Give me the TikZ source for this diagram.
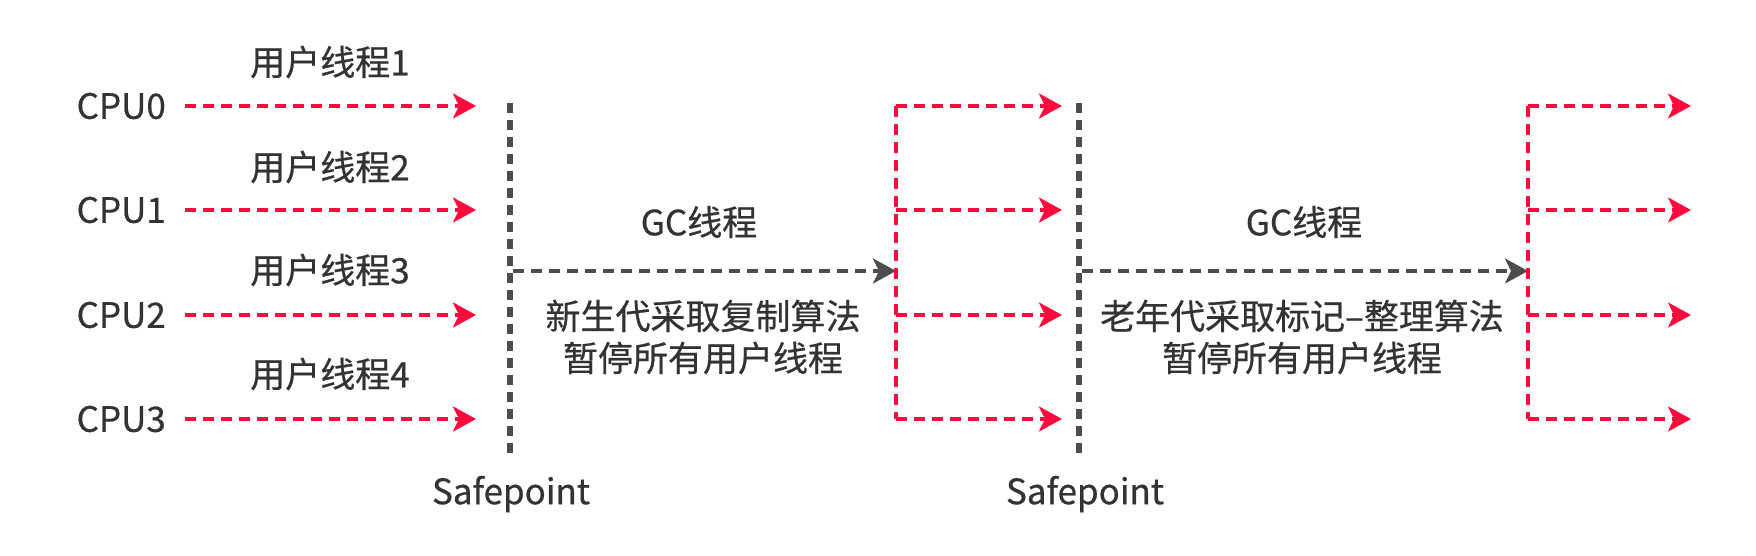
\documentclass[tikz,border=0pt]{standalone}
\usepackage{fontspec}
\setmainfont{Noto Sans CJK SC}[FakeBold=0.6]
\usetikzlibrary{arrows.meta}
\definecolor{my_red}{HTML}{FF0A3C}
\definecolor{my_gray}{HTML}{4D4D4D}
\definecolor{my_text}{HTML}{333333}

\begin{document}
\begin{tikzpicture}[x=1pt,y=-1pt,
  txt/.style={text=my_text,font=\fontsize{35}{42}\selectfont,inner sep=0pt},
  cpu_arrow/.style={draw=my_red,line width=3.2pt,dash pattern=on 11pt off 7pt,-{Stealth[length=23pt,width=25pt,inset=6pt]}},
  red_line/.style={draw=my_red,line width=3.2pt,dash pattern=on 11pt off 7pt},
  gc_arrow/.style={draw=my_gray,line width=3.2pt,dash pattern=on 11pt off 7pt,-{Stealth[length=23pt,width=25pt,inset=6pt]}},
  safe_line/.style={draw=my_gray,line width=6.5pt,dash pattern=on 10pt off 7pt}
  ]

\useasboundingbox (0,0) rectangle (1756,556);

% cpus
\node[txt,anchor=east] (cpu0) at (166,106) {CPU0};
\node[txt,anchor=east] (cpu1) at (166,210) {CPU1};
\node[txt,anchor=east] (cpu2) at (166,315) {CPU2};
\node[txt,anchor=east] (cpu3) at (166,419) {CPU3};

\node[txt] (user1) at (330,62) {用户线程1};
\node[txt] (user2) at (330,167) {用户线程2};
\node[txt] (user3) at (330,270) {用户线程3};
\node[txt] (user4) at (330,374) {用户线程4};

\coordinate (end0) at (476,106);
\coordinate (end1) at (476,210);
\coordinate (end2) at (476,315);
\coordinate (end3) at (476,419);

\draw[cpu_arrow] ([xshift=19pt]cpu0.east) -- (end0);
\draw[cpu_arrow] ([xshift=19pt]cpu1.east) -- (end1);
\draw[cpu_arrow] ([xshift=19pt]cpu2.east) -- (end2);
\draw[cpu_arrow] ([xshift=19pt]cpu3.east) -- (end3);

% safepoints
\coordinate (sp1_top) at (510,103);
\coordinate (sp1_bot) at (510,457);
\coordinate (sp2_top) at (1079,103);
\coordinate (sp2_bot) at (1079,457);
\draw[safe_line] (sp1_top) -- (sp1_bot);
\draw[safe_line] (sp2_top) -- (sp2_bot);
\node[txt] (safe1) at (511,494) {Safepoint};
\node[txt] (safe2) at (1085,494) {Safepoint};

% young gc
\node[txt] (gc1) at (699,222) {GC线程};
\coordinate (gc1_start) at (513,271);
\coordinate (split1_top) at (896,106);
\coordinate (split1_mid) at (896,271);
\coordinate (split1_bot) at (896,419);
\draw[gc_arrow] (gc1_start) -- (split1_mid);
\node[txt,align=center] (young) at (703,337) {新生代采取复制算法\\暂停所有用户线程};
\draw[red_line] (split1_top) -- (split1_bot);
\coordinate (out1_0) at (1062,106);
\coordinate (out1_1) at (1062,210);
\coordinate (out1_2) at (1062,315);
\coordinate (out1_3) at (1062,419);
\draw[cpu_arrow] (split1_top) -- (out1_0);
\draw[cpu_arrow] (896,210) -- (out1_1);
\draw[cpu_arrow] (896,315) -- (out1_2);
\draw[cpu_arrow] (split1_bot) -- (out1_3);

% old gc
\node[txt] (gc2) at (1304,222) {GC线程};
\coordinate (gc2_start) at (1082,271);
\coordinate (split2_top) at (1528,106);
\coordinate (split2_mid) at (1528,271);
\coordinate (split2_bot) at (1528,419);
\draw[gc_arrow] (gc2_start) -- (split2_mid);
\node[txt,align=center] (old) at (1302,337) {老年代采取标记–整理算法\\暂停所有用户线程};
\draw[red_line] (split2_top) -- (split2_bot);
\coordinate (out2_0) at (1691,106);
\coordinate (out2_1) at (1691,210);
\coordinate (out2_2) at (1691,315);
\coordinate (out2_3) at (1691,419);
\draw[cpu_arrow] (split2_top) -- (out2_0);
\draw[cpu_arrow] (1528,210) -- (out2_1);
\draw[cpu_arrow] (1528,315) -- (out2_2);
\draw[cpu_arrow] (split2_bot) -- (out2_3);

\end{tikzpicture}
\end{document}
